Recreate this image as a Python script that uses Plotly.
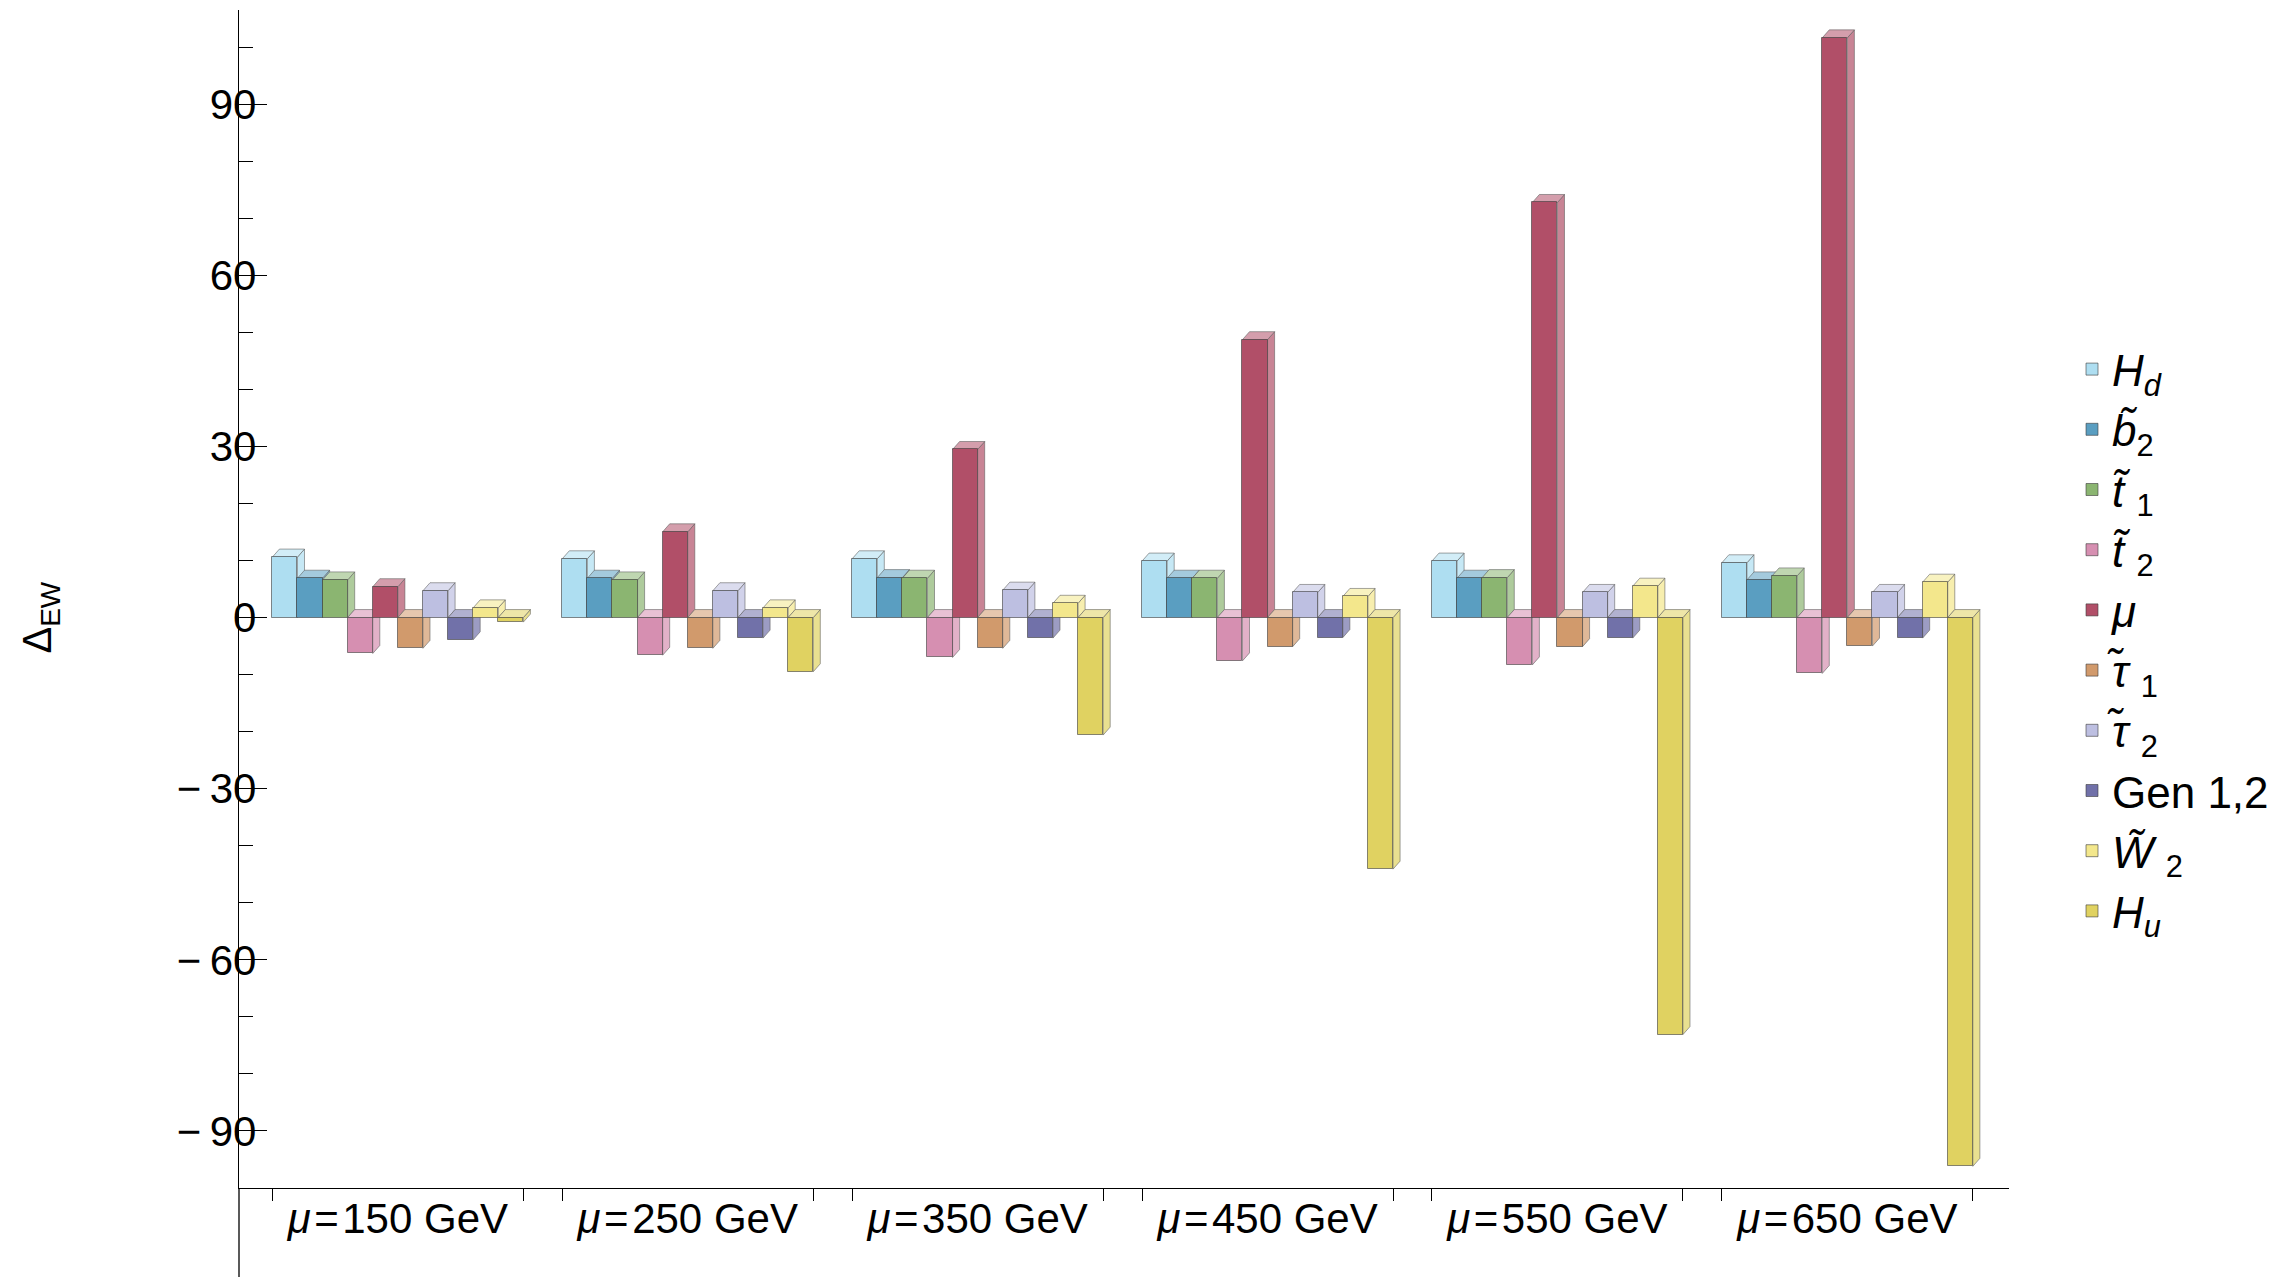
import plotly.graph_objects as go

# Contributions to Delta_EW for each mu benchmark point
category_labels = ["<i>μ</i>\u200a=\u200a150 GeV", "<i>μ</i>\u200a=\u200a250 GeV",
                   "<i>μ</i>\u200a=\u200a350 GeV", "<i>μ</i>\u200a=\u200a450 GeV",
                   "<i>μ</i>\u200a=\u200a550 GeV", "<i>μ</i>\u200a=\u200a650 GeV"]

component_names = [
    "<i>H</i><sub><i>d</i></sub>",
    "<i>b̃</i><sub>2</sub>",
    "<i>t̃</i> <sub>1</sub>",
    "<i>t̃</i> <sub>2</sub>",
    "<i>μ</i>",
    "<i>τ̃</i> <sub>1</sub>",
    "<i>τ̃</i> <sub>2</sub>",
    "Gen 1,2",
    "<i>W̃</i> <sub>2</sub>",
    "<i>H</i><sub><i>u</i></sub>",
]

hd = [10.6, 10.3, 10.3, 9.9, 9.9, 9.6]
b2 = [6.9, 6.9, 7.0, 6.9, 6.9, 6.6]
t1 = [6.6, 6.6, 6.9, 6.9, 7.0, 7.3]
t2 = [-6.3, -6.6, -7.0, -7.6, -8.3, -9.8]
mu = [5.41, 15.03, 29.46, 48.71, 72.76, 101.62]
tau1 = [-5.4, -5.4, -5.4, -5.1, -5.1, -5.0]
tau2 = [4.7, 4.7, 4.8, 4.4, 4.4, 4.4]
gen12 = [-3.9, -3.6, -3.6, -3.5, -3.6, -3.6]
w2 = [1.7, 1.7, 2.5, 3.7, 5.5, 6.2]
hu = [-0.8, -9.5, -20.6, -44.1, -73.1, -96.2]

series = [hd, b2, t1, t2, mu, tau1, tau2, gen12, w2, hu]

colors = ["#AEDEF1", "#5A9EC1", "#8BB571", "#D68FB1", "#B14F68",
          "#D19A6C", "#BDBFE1", "#7171A9", "#F3E78C", "#E0D261"]

y_tickvals = [-90, -60, -30, 0, 30, 60, 90]
y_ticktext = ["\u2212\u200990", "\u2212\u200960", "\u2212\u200930", "0", "30", "60", "90"]
y_minorvals = [-80, -70, -50, -40, -20, -10, 10, 20, 40, 50, 70, 80, 100]

# layout geometry (bar units along x)
GROUP_PITCH = 11.55
N_BARS = len(series)
DEPTH_X = 0.28   # oblique depth offset, x data units
DEPTH_Y = 1.4    # oblique depth offset, y data units
FONT = "Liberation Sans, Arial, sans-serif"


def lighten(hex_color, f):
    r, g, b = (int(hex_color[k:k + 2], 16) for k in (1, 3, 5))
    mix = lambda c: int(round(c + (255 - c) * f))
    return f"rgb({mix(r)},{mix(g)},{mix(b)})"


fig = go.Figure()
shapes = []
n_groups = len(category_labels)

for i, (name, vals, col) in enumerate(zip(component_names, series, colors)):
    xs = [g * GROUP_PITCH + i + 0.5 for g in range(n_groups)]
    fig.add_trace(go.Bar(
        x=xs, y=vals, width=1.0, name=name, legendgroup=f"c{i}",
        marker=dict(color=col, line=dict(color="rgba(60,60,60,0.6)", width=1)),
        hoverinfo="y",
    ))
    side_col = lighten(col, 0.30)
    top_col = lighten(col, 0.45)
    for g, v in enumerate(vals):
        left = g * GROUP_PITCH + i
        right = left + 1.0
        # right-hand side face
        shapes.append(dict(
            type="path", xref="x", yref="y", layer="below",
            path=(f"M{right},0 L{right + DEPTH_X},{DEPTH_Y} "
                  f"L{right + DEPTH_X},{v + DEPTH_Y} L{right},{v} Z"),
            fillcolor=side_col, line=dict(color="rgba(90,90,90,0.55)", width=1),
        ))
        # top face
        h = max(v, 0)
        shapes.append(dict(
            type="path", xref="x", yref="y", layer="below",
            path=(f"M{left},{h} L{right},{h} L{right + DEPTH_X},{h + DEPTH_Y} "
                  f"L{left + DEPTH_X},{h + DEPTH_Y} Z"),
            fillcolor=top_col, line=dict(color="rgba(90,90,90,0.55)", width=1),
        ))

# y axis line continues below the category axis
shapes.append(dict(type="line", xref="paper", yref="paper", x0=0, x1=0,
                   y0=0, y1=-89 / 1178, line=dict(color="black", width=1.3),
                   layer="above"))

group_centers = [g * GROUP_PITCH + N_BARS / 2 for g in range(n_groups)]
group_edges = []
for g in range(n_groups):
    group_edges += [g * GROUP_PITCH, g * GROUP_PITCH + N_BARS]

fig.update_layout(
    width=2296, height=1277, autosize=False,
    margin=dict(l=239, r=287, t=10, b=89),
    paper_bgcolor="white", plot_bgcolor="white",
    barmode="overlay", bargap=0,
    font=dict(family=FONT, size=40, color="black"),
    shapes=shapes,
    showlegend=True,
    legend=dict(x=(2072 - 239) / 1770, y=(1188 - 334) / 1178,
                xanchor="left", yanchor="top",
                font=dict(family=FONT, size=44, color="black"),
                bgcolor="rgba(0,0,0,0)", traceorder="normal",
                tracegroupgap=3),
    xaxis=dict(
        range=[-1.33, 69.19], showline=True, linecolor="black", linewidth=1.3,
        showgrid=False, zeroline=False,
        tickmode="array", tickvals=group_centers, ticktext=category_labels,
        ticks="", ticklabelstandoff=-7,
        tickfont=dict(family=FONT, size=42, color="black"),
        minor=dict(tickmode="array", tickvals=group_edges, ticks="outside",
                   ticklen=12, tickwidth=1.3, tickcolor="black", showgrid=False),
    ),
    yaxis=dict(
        range=[-100, 106.5], showline=True, linecolor="black", linewidth=1.3,
        showgrid=False, zeroline=False,
        tickmode="array", tickvals=y_tickvals, ticktext=y_ticktext,
        ticks="inside", ticklen=28, tickwidth=1.3, tickcolor="black",
        ticklabelstandoff=-27,
        tickfont=dict(family=FONT, size=42, color="black"),
        minor=dict(tickmode="array", tickvals=y_minorvals, ticks="inside",
                   ticklen=14, tickwidth=1.3, tickcolor="black", showgrid=False),
    ),
    annotations=[dict(
        text="Δ<sub>EW</sub>", textangle=-90, xref="paper", yref="y",
        x=(40 - 239) / 1770, y=0, xanchor="center", yanchor="middle",
        showarrow=False, font=dict(family=FONT, size=40, color="black"),
    )],
)

fig.write_html("out.html")
